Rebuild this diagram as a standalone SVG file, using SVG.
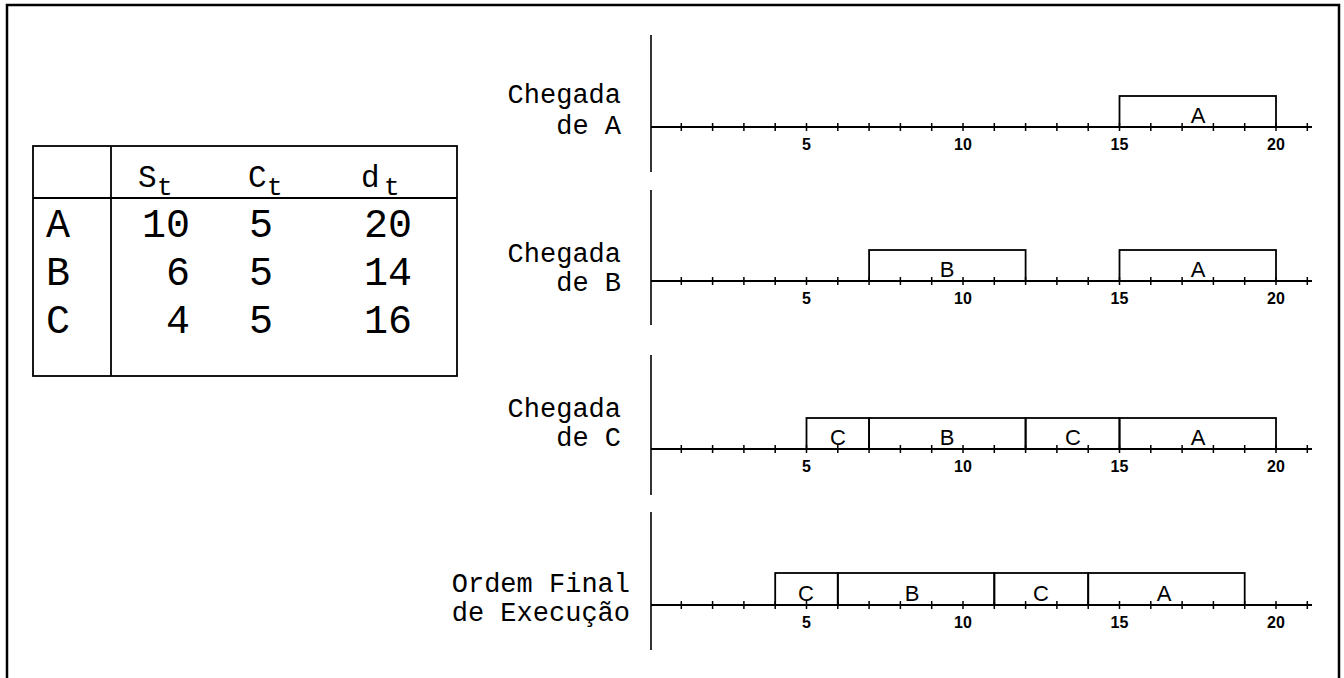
<svg xmlns="http://www.w3.org/2000/svg" xmlns:xlink="http://www.w3.org/1999/xlink" width="1344" height="678" viewBox="0 0 1344 678">
<style>
  .frame{fill:none;stroke:#000;stroke-width:2.5}
  .tbl{fill:none;stroke:#000;stroke-width:1.8}
  .tt{font-family:"Liberation Mono","DejaVu Sans Mono",monospace;font-size:40px;fill:#000}
  .th{font-family:"Liberation Mono","DejaVu Sans Mono",monospace;font-size:31px;fill:#000}
  .sub{font-family:"Liberation Mono","DejaVu Sans Mono",monospace;font-size:26px;fill:#000}
  .lbl{font-family:"Liberation Mono","DejaVu Sans Mono",monospace;font-size:27px;fill:#000;text-anchor:end}
  .vax{stroke:#000;stroke-width:1.6;fill:none}
  .hax{stroke:#000;stroke-width:2;fill:none}
  .tick{stroke:#000;stroke-width:1.5;fill:none}
  .box{fill:none;stroke:#000;stroke-width:1.8}
  .num{font-family:"Liberation Sans",Arial,sans-serif;font-size:16px;font-weight:bold;fill:#000;text-anchor:middle}
  .bl{font-family:"Liberation Sans",Arial,sans-serif;font-size:22px;fill:#000;text-anchor:middle}
</style>
<defs>
  <path id="ticks" class="tick" d="M681.3 -4v8M712.6 -4v8M743.9 -4v8M775.2 -4v8M806.5 -4v8M837.8 -4v8M869.1 -4v8M900.4 -4v8M931.7 -4v8M963 -4v8M994.3 -4v8M1025.6 -4v8M1056.9 -4v8M1088.2 -4v8M1119.5 -4v8M1150.8 -4v8M1182.1 -4v8M1213.4 -4v8M1244.7 -4v8M1276 -4v8M1307.3 -4v8"/>
  <g id="nums">
    <text class="num" x="806.5" y="23">5</text>
    <text class="num" x="963" y="23">10</text>
    <text class="num" x="1119.5" y="23">15</text>
    <text class="num" x="1276" y="23">20</text>
  </g>
</defs>

<path class="frame" d="M7 680V5H1339V680"/>

<g id="table">
  <rect class="tbl" x="33" y="146" width="424" height="230"/>
  <line class="tbl" x1="111" y1="146" x2="111" y2="376"/>
  <line class="tbl" x1="33" y1="198" x2="457" y2="198"/>
  <text class="th" x="138" y="187">S</text><text class="sub" x="157" y="195">t</text>
  <text class="th" x="248" y="187">C</text><text class="sub" x="267" y="195">t</text>
  <text class="th" x="361" y="187">d</text><text class="sub" x="384" y="195">t</text>
  <text class="tt" x="46" y="237">A</text>
  <text class="tt" x="46" y="285">B</text>
  <text class="tt" x="46" y="333">C</text>
  <text class="tt" x="190" y="237" text-anchor="end">10</text>
  <text class="tt" x="190" y="285" text-anchor="end">6</text>
  <text class="tt" x="190" y="333" text-anchor="end">4</text>
  <text class="tt" x="249" y="237">5</text>
  <text class="tt" x="249" y="285">5</text>
  <text class="tt" x="249" y="333">5</text>
  <text class="tt" x="412" y="237" text-anchor="end">20</text>
  <text class="tt" x="412" y="285" text-anchor="end">14</text>
  <text class="tt" x="412" y="333" text-anchor="end">16</text>
</g>

<g id="chart-a">
  <text class="lbl" x="621" y="103">Chegada</text>
  <text class="lbl" x="621" y="134">de A</text>
  <line class="vax" x1="651" y1="35" x2="651" y2="172"/>
  <line class="hax" x1="651" y1="127" x2="1312" y2="127"/>
  <use xlink:href="#ticks" transform="translate(0,127)"/>
  <use xlink:href="#nums" transform="translate(0,127)"/>
  <rect class="box" x="1119.5" y="96" width="156.5" height="31"/>
  <text class="bl" x="1198" y="123">A</text>
</g>

<g id="chart-b">
  <text class="lbl" x="621" y="262">Chegada</text>
  <text class="lbl" x="621" y="291">de B</text>
  <line class="vax" x1="651" y1="190" x2="651" y2="325"/>
  <line class="hax" x1="651" y1="281" x2="1312" y2="281"/>
  <use xlink:href="#ticks" transform="translate(0,281)"/>
  <use xlink:href="#nums" transform="translate(0,281)"/>
  <rect class="box" x="869.1" y="250" width="156.5" height="31"/>
  <text class="bl" x="947" y="277">B</text>
  <rect class="box" x="1119.5" y="250" width="156.5" height="31"/>
  <text class="bl" x="1198" y="277">A</text>
</g>

<g id="chart-c">
  <text class="lbl" x="621" y="417">Chegada</text>
  <text class="lbl" x="621" y="446">de C</text>
  <line class="vax" x1="651" y1="355" x2="651" y2="495"/>
  <line class="hax" x1="651" y1="449" x2="1312" y2="449"/>
  <use xlink:href="#ticks" transform="translate(0,449)"/>
  <use xlink:href="#nums" transform="translate(0,449)"/>
  <rect class="box" x="806.5" y="418" width="62.6" height="31"/>
  <text class="bl" x="838" y="445">C</text>
  <rect class="box" x="869.1" y="418" width="156.5" height="31"/>
  <text class="bl" x="947" y="445">B</text>
  <rect class="box" x="1025.6" y="418" width="93.9" height="31"/>
  <text class="bl" x="1073" y="445">C</text>
  <rect class="box" x="1119.5" y="418" width="156.5" height="31"/>
  <text class="bl" x="1198" y="445">A</text>
</g>

<g id="chart-final">
  <text class="lbl" x="630" y="592">Ordem Final</text>
  <text class="lbl" x="630" y="621">de Execução</text>
  <line class="vax" x1="651" y1="512" x2="651" y2="650"/>
  <line class="hax" x1="651" y1="605" x2="1312" y2="605"/>
  <use xlink:href="#ticks" transform="translate(0,605)"/>
  <use xlink:href="#nums" transform="translate(0,605)"/>
  <rect class="box" x="775.2" y="573" width="62.6" height="32"/>
  <text class="bl" x="806" y="601">C</text>
  <rect class="box" x="837.8" y="573" width="156.5" height="32"/>
  <text class="bl" x="912" y="601">B</text>
  <rect class="box" x="994.3" y="573" width="93.9" height="32"/>
  <text class="bl" x="1041" y="601">C</text>
  <rect class="box" x="1088.2" y="573" width="156.5" height="32"/>
  <text class="bl" x="1164" y="601">A</text>
</g>
</svg>
